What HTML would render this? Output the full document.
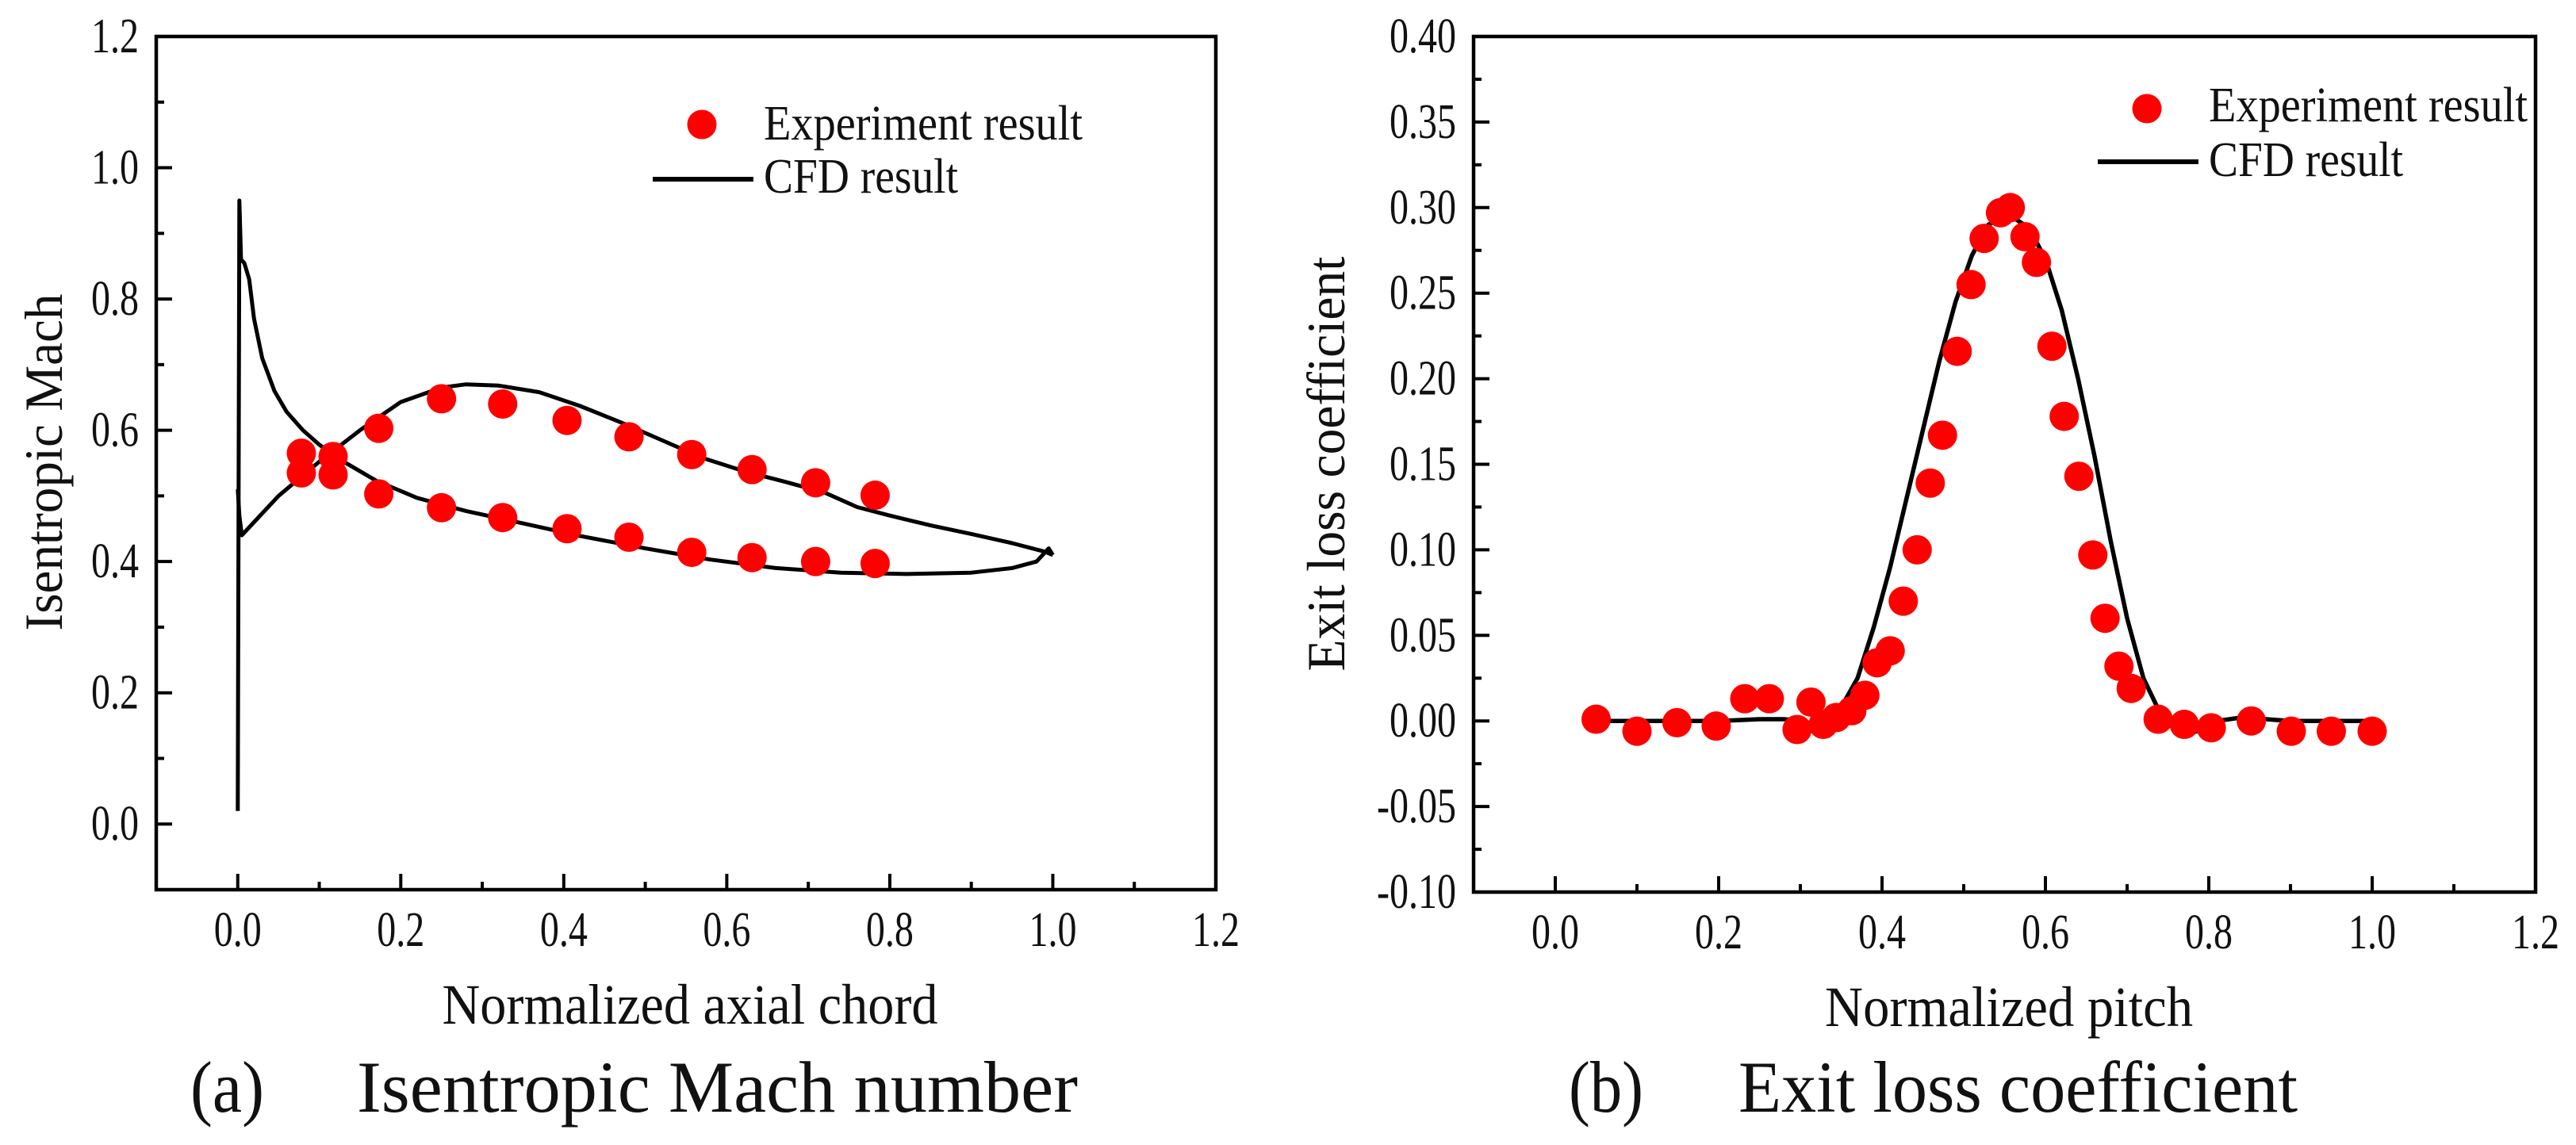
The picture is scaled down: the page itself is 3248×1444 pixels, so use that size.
<!DOCTYPE html>
<html><head><meta charset="utf-8">
<style>
html,body{margin:0;padding:0;background:#fff;}
svg{display:block;}
text{font-family:"Liberation Serif",serif;fill:#111;}
</style></head>
<body>
<svg id="fig" width="3248" height="1444" viewBox="0 0 3248 1444" xmlns="http://www.w3.org/2000/svg">
</svg>
<script>
// ---- Panel (a) data ----
const aXTicks = [0.0, 0.2, 0.4, 0.6, 0.8, 1.0, 1.2];
const aXTickLabels = ["0.0","0.2","0.4","0.6","0.8","1.0","1.2"];
const aYTicks = [0.0, 0.2, 0.4, 0.6, 0.8, 1.0, 1.2];
const aYTickLabels = ["0.0","0.2","0.4","0.6","0.8","1.0","1.2"];
const aExpX = [0.078,0.078,0.117,0.117,0.173,0.25,0.325,0.404,0.48,0.557,0.631,0.709,0.782,
               0.173,0.25,0.325,0.404,0.48,0.557,0.631,0.709,0.782];
const aExpY = [0.535,0.565,0.56,0.532,0.603,0.648,0.640,0.615,0.590,0.563,0.540,0.520,0.501,
               0.503,0.482,0.467,0.450,0.437,0.414,0.406,0.400,0.397];
const aSuctionX = [0.0,0.002,0.005,0.02,0.05,0.1,0.15,0.2,0.25,0.28,0.32,0.37,0.42,0.47,0.52,0.57,0.62,0.67,0.72,0.76,0.8,0.85,0.9,0.95,0.99,1.0];
const aSuctionY = [0.51,0.47,0.44,0.46,0.50,0.552,0.60,0.643,0.665,0.670,0.668,0.658,0.637,0.612,0.585,0.558,0.538,0.522,0.505,0.483,0.470,0.455,0.442,0.428,0.415,0.41];
const aPressureX = [0.0,0.002,0.004,0.008,0.014,0.02,0.03,0.045,0.06,0.08,0.1,0.13,0.17,0.22,0.28,0.35,0.42,0.5,0.58,0.66,0.74,0.82,0.9,0.95,0.98,0.995,1.0];
const aPressureY = [0.02,0.95,0.86,0.855,0.83,0.77,0.71,0.66,0.628,0.600,0.578,0.552,0.523,0.497,0.477,0.458,0.439,0.420,0.403,0.390,0.383,0.381,0.383,0.390,0.400,0.42,0.41];

// ---- Panel (b) data ----
const bXTicks = [0.0, 0.2, 0.4, 0.6, 0.8, 1.0, 1.2];
const bXTickLabels = ["0.0","0.2","0.4","0.6","0.8","1.0","1.2"];
const bYTicks = [-0.10,-0.05,0.00,0.05,0.10,0.15,0.20,0.25,0.30,0.35,0.40];
const bYTickLabels = ["-0.10","-0.05","0.00","0.05","0.10","0.15","0.20","0.25","0.30","0.35","0.40"];
const bExpX = [0.050,0.100,0.149,0.197,0.232,0.262,0.296,0.313,0.328,0.344,0.363,0.379,0.394,0.410,0.426,0.443,0.459,0.474,0.492,0.509,0.525,0.545,0.557,0.575,0.589,0.608,0.623,0.641,0.658,0.673,0.690,0.705,0.738,0.770,0.803,0.852,0.901,0.950,1.0];
const bExpY = [0.001,-0.006,-0.001,-0.003,0.013,0.013,-0.005,0.011,-0.002,0.002,0.006,0.015,0.034,0.041,0.070,0.100,0.139,0.167,0.216,0.255,0.282,0.297,0.300,0.283,0.268,0.219,0.178,0.143,0.097,0.060,0.032,0.019,0.001,-0.002,-0.004,0.000,-0.006,-0.006,-0.006];
const bCfdX = [0.05,0.1,0.2,0.25,0.28,0.30,0.32,0.335,0.35,0.37,0.39,0.41,0.43,0.45,0.47,0.49,0.51,0.53,0.555,0.58,0.60,0.62,0.64,0.66,0.68,0.70,0.72,0.74,0.76,0.775,0.79,0.81,0.84,0.87,0.9,1.0];
const bCfdY = [0,0,0,0.001,0.001,0,-0.002,0,0.008,0.025,0.055,0.09,0.13,0.17,0.21,0.245,0.272,0.29,0.296,0.288,0.27,0.24,0.2,0.155,0.105,0.06,0.025,0.005,-0.006,-0.008,-0.005,0,0.002,0.001,0,0];

const NS = "http://www.w3.org/2000/svg";
const svg = document.getElementById('fig');
function mk(tag, attrs, parent){
  const e = document.createElementNS(NS, tag);
  for (const k in attrs) e.setAttribute(k, attrs[k]);
  (parent||svg).appendChild(e);
  return e;
}
function labW(s){ let w=0; for (const ch of s) w += (ch==='.')?12:(ch==='-')?16:24; return w; }

function panel(cfg){
  const g = mk('g', {});
  
  
  const sx = v => cfg.L + (v - cfg.x0) / (cfg.x1 - cfg.x0) * (cfg.R - cfg.L);
  const sy = v => cfg.B - (v - cfg.y0) / (cfg.y1 - cfg.y0) * (cfg.B - cfg.T);
  const fr = mk('rect', {x:cfg.L, y:cfg.T, width:cfg.R-cfg.L, height:cfg.B-cfg.T, fill:'none', stroke:'#000', 'stroke-width':4.5}, g);
  
  
  cfg.xt.forEach((v,i) => {
    const x = sx(v);
    const t = mk('line', {x1:x, x2:x, y1:cfg.B, y2:cfg.B-20, stroke:'#000', 'stroke-width':4}, g);
    
    
    const lb = mk('text', {x:x, y:cfg.B+71, 'font-size':62, 'text-anchor':'middle', textLength:labW(cfg.xtl[i]), lengthAdjust:'spacingAndGlyphs'}, g);
    lb.textContent = cfg.xtl[i];
    
    
    const mv = v + cfg.xMinor;
    if (mv < cfg.x1 - 1e-9) {
      const m = mk('line', {x1:sx(mv), x2:sx(mv), y1:cfg.B, y2:cfg.B-10, stroke:'#000', 'stroke-width':4}, g);
      
      
    }
  });
  cfg.yt.forEach((v,i) => {
    const y = sy(v);
    const t = mk('line', {x1:cfg.L, x2:cfg.L+20, y1:y, y2:y, stroke:'#000', 'stroke-width':4}, g);
    
    
    const lb = mk('text', {x:cfg.L-22, y:y+20, 'font-size':62, 'text-anchor':'end', textLength:labW(cfg.ytl[i]), lengthAdjust:'spacingAndGlyphs'}, g);
    lb.textContent = cfg.ytl[i];
    
    
    const mv = v + cfg.yMinor;
    if (mv < cfg.y1 - 1e-9) {
      const m = mk('line', {x1:cfg.L, x2:cfg.L+10, y1:sy(mv), y2:sy(mv), stroke:'#000', 'stroke-width':4}, g);
      
      
    }
  });
  cfg.lines.forEach(ln => {
    const d = ln.x.map((v,i) => (i?'L':'M') + sx(v).toFixed(1) + ' ' + sy(ln.y[i]).toFixed(1)).join(' ');
    const p = mk('path', {d:d, fill:'none', stroke:'#000', 'stroke-width':cfg.lw, 'stroke-linejoin':'round'}, g);
    
    
  });
  cfg.ex.forEach((v,i) => {
    const c = mk('circle', {cx:sx(v), cy:sy(cfg.ey[i]), r:18.5, fill:'#ff0000'}, g);
    
    
  });
  const lg = mk('g', {}, g);
  
  
  const lc = mk('circle', {cx:cfg.leg.mx, cy:cfg.leg.my, r:18.5, fill:'#ff0000'}, lg);
  
  
  const lt1 = mk('text', {x:cfg.leg.tx, y:cfg.leg.b1, 'font-size':62, textLength:402, lengthAdjust:'spacingAndGlyphs'}, lg);
  lt1.textContent = 'Experiment result';
  
  
  const ll = mk('line', {x1:cfg.leg.lx1, x2:cfg.leg.lx2, y1:cfg.leg.ly, y2:cfg.leg.ly, stroke:'#000', 'stroke-width':6}, lg);
  
  
  const lt2 = mk('text', {x:cfg.leg.tx, y:cfg.leg.b2, 'font-size':62, textLength:245, lengthAdjust:'spacingAndGlyphs'}, lg);
  lt2.textContent = 'CFD result';
  
  
  const xt = mk('text', {x:cfg.xtitle.x, y:cfg.xtitle.y, 'font-size':72, 'text-anchor':'middle', textLength:cfg.xtitle.len, lengthAdjust:'spacingAndGlyphs'}, g);
  xt.textContent = cfg.xtitle.t;
  
  
  const yt = mk('text', {x:0, y:0, 'font-size':68, 'text-anchor':'middle', textLength:cfg.ytitle.len, lengthAdjust:'spacingAndGlyphs', transform:'translate('+cfg.ytitle.x+','+cfg.ytitle.y+') rotate(-90)'}, g);
  yt.textContent = cfg.ytitle.t;
  
  
  const c1 = mk('text', {x:cfg.cap.x1, y:1402, 'font-size':92, textLength:cfg.cap.l1, lengthAdjust:'spacingAndGlyphs'}, g);
  c1.textContent = cfg.cap.a;
  
  
  const c2 = mk('text', {x:cfg.cap.x2, y:1402, 'font-size':92, textLength:cfg.cap.l2, lengthAdjust:'spacingAndGlyphs'}, g);
  c2.textContent = cfg.cap.b;
  
  
}

panel({
  name:'panel-a-isentropic-mach', L:197, R:1533, T:46, B:1122, x0:-0.1, x1:1.2, y0:-0.1, y1:1.2,
  xt:aXTicks, xtl:aXTickLabels, yt:aYTicks, ytl:aYTickLabels, xMinor:0.1, yMinor:0.1, lw:5,
  lines:[{name:'cfd-suction-side-line', x:aSuctionX, y:aSuctionY},{name:'cfd-pressure-side-line', x:aPressureX, y:aPressureY}],
  ex:aExpX, ey:aExpY,
  leg:{mx:885, my:157, tx:963, b1:176, b2:243, lx1:823, lx2:950, ly:226},
  xtitle:{x:870, y:1291, t:'Normalized axial chord', len:625},
  ytitle:{x:78, y:583, t:'Isentropic Mach', len:425},
  cap:{x1:240, x2:450, l1:93, l2:909, a:'(a)', b:'Isentropic Mach number'}
});
panel({
  name:'panel-b-exit-loss', L:1858, R:3197, T:46, B:1125, x0:-0.1, x1:1.2, y0:-0.10, y1:0.40,
  xt:bXTicks, xtl:bXTickLabels, yt:bYTicks, ytl:bYTickLabels, xMinor:0.1, yMinor:0.025, lw:5.5,
  lines:[{name:'cfd-loss-line', x:bCfdX, y:bCfdY}],
  ex:bExpX, ey:bExpY,
  leg:{mx:2707, my:137, tx:2785, b1:153, b2:222, lx1:2645, lx2:2772, ly:204},
  xtitle:{x:2533, y:1294, t:'Normalized pitch', len:464},
  ytitle:{x:1695, y:585, t:'Exit loss coefficient', len:523},
  cap:{x1:1978, x2:2192, l1:94, l2:705, a:'(b)', b:'Exit loss coefficient'}
});
</script>
</body></html>
